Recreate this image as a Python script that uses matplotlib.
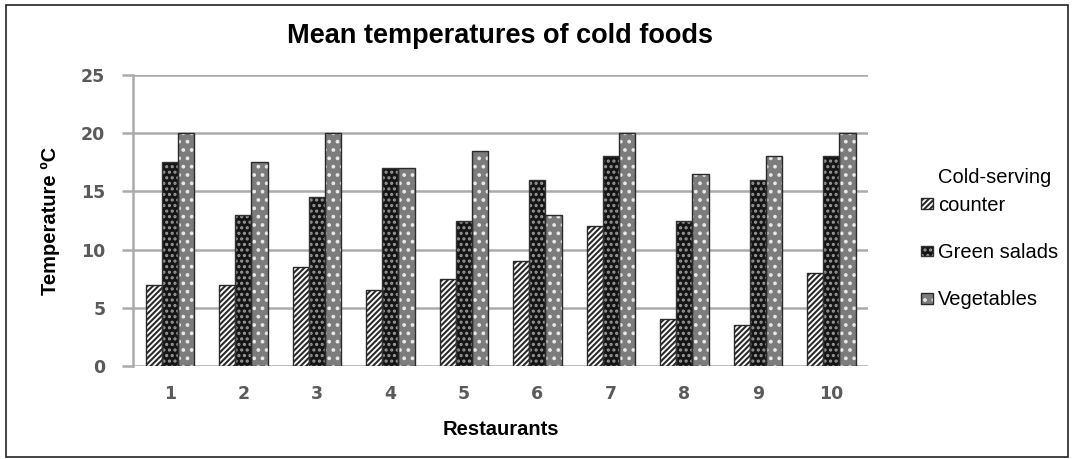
import matplotlib.pyplot as plt
from matplotlib.legend_handler import HandlerTuple
import numpy as np

restaurants = ["1", "2", "3", "4", "5", "6", "7", "8", "9", "10"]
counter = [7, 7, 8.5, 6.5, 7.5, 9, 12, 4, 3.5, 8]
salads = [17.5, 13, 14.5, 17, 12.5, 16, 18, 12.5, 16, 18]
vegetables = [20, 17.5, 20, 17, 18.5, 13, 20, 16.5, 18, 20]
yticks = [0, 5, 10, 15, 20, 25]

plt.rcParams['hatch.linewidth'] = 1.5

fig = plt.figure(figsize=(10.73, 4.59), dpi=100)
ax = fig.add_axes([0.124, 0.2026, 0.685, 0.634])

x = np.arange(len(restaurants))
w = 0.22


def patterned_bars(pos, vals, face, hatch, hatch_col, outline):
    # hatch colour follows the edge colour, so fill and outline are drawn separately
    fill = ax.bar(pos, vals, w, color=face, edgecolor=hatch_col, linewidth=0,
                  hatch=hatch, zorder=3)
    edge = ax.bar(pos, vals, w, fill=False, edgecolor=outline, linewidth=1.0, zorder=4)
    return (fill, edge)


h1 = patterned_bars(x - w, counter, 'white', '//////', '#2a2a2a', '#2a2a2a')
h2 = patterned_bars(x, salads, '#151515', '...', '#9a9a9a', '#333333')
h3 = patterned_bars(x + w, vegetables, '#7c7c7c', '..', '#e8e8e8', '#2a2a2a')

ax.set_xlim(-0.5, len(restaurants) - 0.5)
ax.set_ylim(0, 25)
ax.set_yticks(yticks)
ax.set_xticks(x)
ax.set_xticklabels(restaurants)
ax.yaxis.grid(True, color='#ababab', linewidth=1.8, zorder=0)
ax.set_axisbelow(True)
for s in ['top', 'right', 'bottom']:
    ax.spines[s].set_visible(False)
ax.spines['left'].set_color('#ababab')
ax.spines['left'].set_linewidth(1.8)
ax.tick_params(axis='y', length=8, width=1.8, color='#ababab', pad=12,
               labelsize=12.5, labelcolor='#5a5a5a')
ax.tick_params(axis='x', length=0, pad=14, labelsize=12.5, labelcolor='#5a5a5a')
for lab in ax.get_xticklabels() + ax.get_yticklabels():
    lab.set_fontweight('bold')
    lab.set_family('DejaVu Sans')

ax.set_xlabel('Restaurants', fontsize=14.5, fontweight='bold', family='Liberation Sans', labelpad=12)
ax.set_ylabel('Temperature ºC', fontsize=14.5, fontweight='bold', family='Liberation Sans', labelpad=15)
fig.text(0.466, 0.921, 'Mean temperatures of cold foods', ha='center', va='center',
         fontsize=19.5, fontweight='bold', family='Liberation Sans')

leg = ax.legend([h1, h2, h3], ['counter', 'Green salads', 'Vegetables'],
                handler_map={tuple: HandlerTuple(ndivide=1)},
                loc='upper left', bbox_to_anchor=(1.072, 0.584), frameon=False,
                prop={'family': 'Liberation Sans', 'size': 14.5},
                handlelength=0.6, handleheight=0.45, handletextpad=0.25,
                labelspacing=1.4, borderpad=0, borderaxespad=0)

# first legend label sits on two lines; put its upper line above the entry
fig.canvas.draw()
bb = leg.get_texts()[0].get_window_extent()
fig.text(bb.x0, bb.y1 + 9, 'Cold-serving', ha='left', va='bottom',
         fontsize=14.5, family='Liberation Sans', transform=None)

# outer frame around the whole figure
fig.patches.append(plt.Rectangle((0.006, 0.004), 0.989, 0.985, transform=fig.transFigure,
                                 fill=False, edgecolor='#222222', linewidth=1.2))

fig.savefig('out.png', dpi=100)
